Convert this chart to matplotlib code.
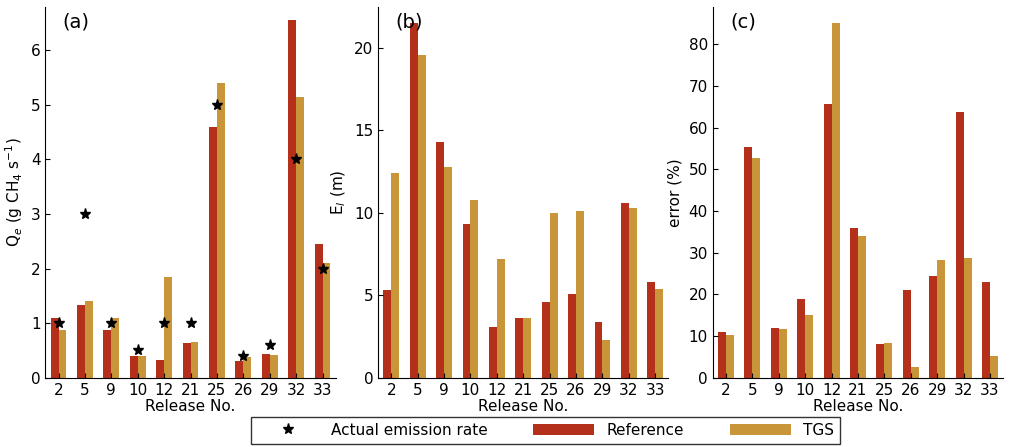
import matplotlib.pyplot as plt
import numpy as np

releases = ['2','5','9','10','12','21','25','26','29','32','33']
qe_ref = [1.1,1.33,0.87,0.4,0.33,0.63,4.6,0.3,0.43,6.55,2.45]
qe_tgs = [0.88,1.4,1.1,0.4,1.85,0.65,5.4,0.38,0.42,5.15,2.1]
qe_actual = [1,3,1,0.5,1,1,5,0.4,0.6,4,2]
el_ref = [5.3,21.5,14.3,9.3,3.1,3.6,4.6,5.1,3.4,10.6,5.8]
el_tgs = [12.4,19.6,12.8,10.8,7.2,3.6,10.0,10.1,2.3,10.3,5.4]
err_ref = [11,55.3,12,19,65.7,36,8,21,24.5,63.8,23]
err_tgs = [10.2,52.8,11.8,15,85,34,8.3,2.5,28.3,28.7,5.3]

c_ref = '#b5301b'
c_tgs = '#c99539'

fig = plt.figure(figsize=(10.3,4.47), dpi=100)
lefts = [0.044, 0.367, 0.692]
w = 0.282
x = np.arange(len(releases))
bw = 0.3
axes = []
for i,(ref,tgs,lab,ylab,ylim,yt) in enumerate([
        (qe_ref,qe_tgs,'(a)',r'Q$_e$ (g CH$_4$ s$^{-1}$)',(0,6.8),range(0,7)),
        (el_ref,el_tgs,'(b)',r'E$_l$ (m)',(0,22.5),range(0,21,5)),
        (err_ref,err_tgs,'(c)','error (%)',(0,89),range(0,81,10))]):
    ax = fig.add_axes([lefts[i], 0.155, w, 0.83])
    ax.bar(x-bw/2, ref, bw, color=c_ref, label='Reference')
    ax.bar(x+bw/2, tgs, bw, color=c_tgs, label='TGS')
    if i == 0:
        ax.plot(x, qe_actual, '*', color='black', ms=8, ls='none', label='Actual emission rate')
    ax.set_xlim(-0.5, 10.5)
    ax.set_ylim(*ylim)
    ax.set_yticks(list(yt))
    ax.set_xticks(x)
    ax.set_xticklabels(releases, fontsize=11)
    ax.tick_params(direction='in', labelsize=11)
    ax.spines['top'].set_visible(False)
    ax.spines['right'].set_visible(False)
    ax.set_xlabel('Release No.', fontsize=11, labelpad=1)
    ax.set_ylabel(ylab, fontsize=11)
    ax.text(0.06, 0.985, lab, transform=ax.transAxes, fontsize=14, va='top')
    axes.append(ax)

h, l = axes[0].get_legend_handles_labels()
fig.legend(h, l, loc='lower center',
           bbox_to_anchor=(0.53, -0.01), ncol=3, fontsize=11, frameon=True,
           fancybox=False, edgecolor='black', handlelength=4, columnspacing=3)
fig.savefig('out.png', dpi=100)
